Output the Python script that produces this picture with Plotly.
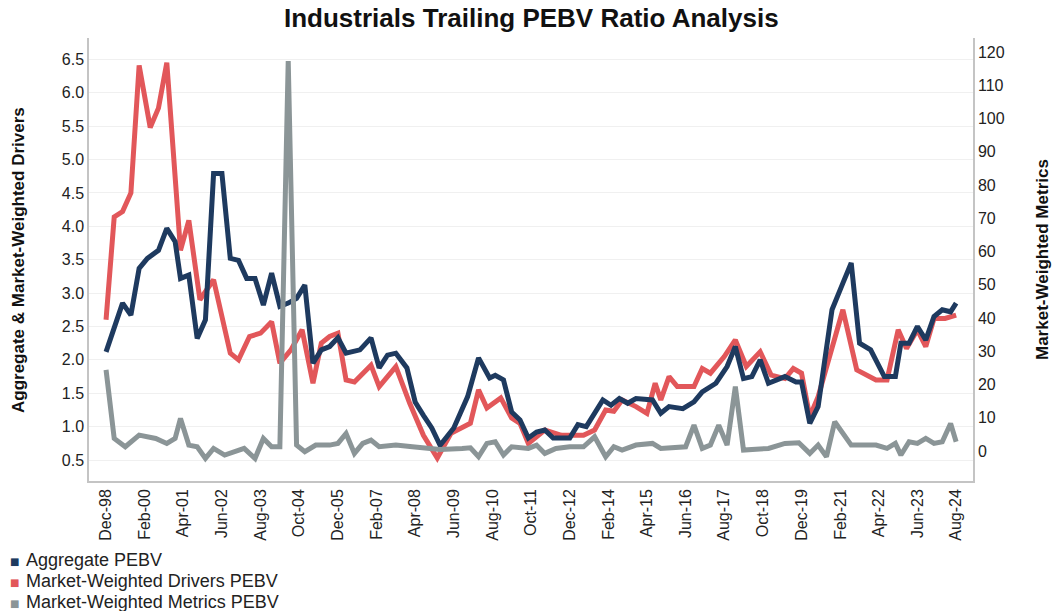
import pandas as pd
import plotly.graph_objects as go

# months since Dec-98 and values
agg_months = [0, 6, 9, 12, 15, 19, 22, 25, 27, 30, 33, 36, 39, 42, 45, 48, 51, 54, 57, 60, 63, 66, 69, 72,
              75, 78, 81, 84, 87, 92, 96, 99, 102, 105, 109, 112, 115, 118, 121, 126, 131, 135, 139, 141,
              144, 147, 150, 153, 156, 159, 162, 168, 171, 174, 180, 183, 186, 189, 192, 198, 201, 204,
              209, 213, 216, 221, 225, 228, 231, 234, 237, 240, 246, 250, 252, 255, 258, 263, 267, 270,
              273, 277, 282, 286, 288, 291, 294, 297, 300, 303, 306, 308]
agg_values = [2.12, 2.85, 2.67, 3.37, 3.52, 3.64, 3.97, 3.77, 3.22, 3.27, 2.32, 2.60, 4.79, 4.79, 3.52,
              3.49, 3.22, 3.22, 2.82, 3.30, 2.80, 2.85, 2.92, 3.12, 1.95, 2.15, 2.20, 2.33, 2.10, 2.15,
              2.33, 1.88, 2.07, 2.10, 1.88, 1.37, 1.17, 0.98, 0.72, 0.98, 1.45, 2.03, 1.73, 1.77, 1.70,
              1.22, 1.10, 0.83, 0.92, 0.95, 0.83, 0.83, 1.03, 1.00, 1.40, 1.32, 1.42, 1.35, 1.42, 1.40,
              1.20, 1.30, 1.27, 1.37, 1.52, 1.65, 1.90, 2.20, 1.72, 1.75, 2.00, 1.65, 1.75, 1.67, 1.67,
              1.05, 1.30, 2.75, 3.15, 3.45, 2.25, 2.15, 1.75, 1.75, 2.25, 2.25, 2.50, 2.30, 2.65, 2.75,
              2.72, 2.85]

drv_months = [0, 3, 6, 9, 12, 16, 19, 22, 27, 30, 34, 39, 45, 48, 52, 56, 60, 63, 67, 71, 75, 78, 81,
              84, 87, 90, 96, 99, 105, 110, 115, 120, 125, 130, 132, 135, 138, 143, 147, 150, 153, 159,
              165, 168, 173, 177, 181, 184, 187, 192, 196, 199, 201, 204, 207, 213, 216, 219, 224, 228,
              232, 237, 241, 246, 249, 252, 255, 258, 267, 272, 279, 283, 287, 290, 294, 297, 300, 304,
              308]
drv_values = [2.60, 4.14, 4.22, 4.50, 6.41, 5.48, 5.77, 6.45, 3.64, 4.09, 2.90, 3.20, 2.10, 2.00, 2.35,
              2.40, 2.57, 1.95, 2.15, 2.45, 1.65, 2.25, 2.35, 2.40, 1.70, 1.67, 1.92, 1.60, 1.90, 1.35,
              0.87, 0.53, 0.90, 1.02, 1.05, 1.55, 1.28, 1.43, 1.13, 1.05, 0.75, 0.95, 0.87, 0.87, 0.87,
              0.95, 1.25, 1.23, 1.40, 1.30, 1.20, 1.65, 1.40, 1.75, 1.60, 1.60, 1.87, 1.80, 2.05, 2.30,
              1.90, 2.12, 1.77, 1.72, 1.87, 1.80, 1.15, 1.45, 2.75, 1.85, 1.70, 1.70, 2.45, 2.17, 2.45,
              2.20, 2.62, 2.62, 2.67]

met_months = [0, 3, 7, 12, 18, 22, 25, 27, 30, 33, 36, 39, 43, 46, 50, 54, 57, 60, 63, 66, 69, 72, 76,
              81, 84, 87, 90, 93, 96, 99, 105, 111, 117, 121, 129, 132, 135, 138, 141, 144, 147, 153,
              156, 159, 163, 168, 173, 177, 181, 184, 187, 192, 198, 201, 210, 213, 216, 219, 222, 225,
              228, 231, 240, 246, 251, 255, 258, 261, 264, 270, 279, 283, 286, 288, 291, 294, 297, 300,
              303, 306, 308]
met_values = [24.4, 3.8, 1.3, 4.8, 3.8, 2.3, 3.8, 9.8, 1.8, 1.3, -2.2, 0.8, -1.2, -0.2, 0.8, -2.2, 3.8,
              1.3, 1.3, 117.3, 1.8, -0.2, 1.8, 1.8, 2.3, 5.3, -0.7, 2.3, 3.3, 1.3, 1.8, 1.3, 1.0, 0.5,
              0.8, 1.0, -1.7, 2.3, 2.8, -1.2, 1.3, 0.8, 1.8, -0.7, 0.8, 1.3, 1.3, 4.3, -1.7, 1.3, 0.3,
              1.8, 2.3, 0.8, 1.3, 7.8, 0.8, 1.8, 7.8, 1.8, 19.4, 0.3, 0.8, 2.3, 2.5, -0.7, 1.8, -1.7,
              8.8, 1.8, 1.8, 0.8, 2.3, -1.2, 2.8, 2.3, 3.8, 2.3, 2.8, 8.3, 2.8]

series_names = ["Aggregate PEBV", "Market-Weighted Drivers PEBV", "Market-Weighted Metrics PEBV"]
left_ticks = [0.5, 1.0, 1.5, 2.0, 2.5, 3.0, 3.5, 4.0, 4.5, 5.0, 5.5, 6.0, 6.5]
right_ticks = list(range(0, 121, 10))

BLUE = "#1e3a5f"
RED = "#e2575a"
GRAY = "#8b9597"

# body margin is removed by post_script, so the figure fills the window
W, H = 1055, 611
L, R, T, B = 89, 82, 38, 130
PW, PH = W - L - R, H - T - B


def px_x(px):
    return (px - L) / PW


def px_y(py):
    return (H - B - py) / PH


start = pd.Timestamp("1998-12-01")


def to_dates(months):
    return [start + pd.DateOffset(months=m) for m in months]


fig = go.Figure()
fig.add_trace(go.Scatter(x=to_dates(drv_months), y=drv_values, mode="lines",
                         line=dict(color=RED, width=5), name=series_names[1]))
fig.add_trace(go.Scatter(x=to_dates(agg_months), y=agg_values, mode="lines",
                         line=dict(color=BLUE, width=5), name=series_names[0]))
fig.add_trace(go.Scatter(x=to_dates(met_months), y=met_values, mode="lines", yaxis="y2",
                         line=dict(color=GRAY, width=5), name=series_names[2]))

FONT = "Liberation Sans, Arial, sans-serif"
annotations = []
# legend (square + label)
for i, (name, col) in enumerate(zip(series_names, [BLUE, RED, GRAY])):
    yc = 560 + i * 21
    annotations.append(dict(xref="paper", yref="paper", x=px_x(14), y=px_y(yc + 1), text="■",
                            showarrow=False, xanchor="center", yanchor="middle",
                            font=dict(family="DejaVu Sans", size=10, color=col)))
    annotations.append(dict(xref="paper", yref="paper", x=px_x(24), y=px_y(yc), text=name,
                            showarrow=False, xanchor="left", yanchor="middle",
                            font=dict(family=FONT, size=18, color="#222222")))
# axis titles
annotations.append(dict(xref="paper", yref="paper", x=px_x(18), y=px_y(260),
                        text="<b>Aggregate &amp; Market-Weighted Drivers</b>", textangle=-90,
                        showarrow=False, xanchor="center", yanchor="middle",
                        font=dict(family=FONT, size=17, color="#111111")))
annotations.append(dict(xref="paper", yref="paper", x=px_x(1042), y=px_y(260),
                        text="<b>Market-Weighted Metrics</b>", textangle=-90,
                        showarrow=False, xanchor="center", yanchor="middle",
                        font=dict(family=FONT, size=17, color="#111111")))
# title
annotations.append(dict(xref="paper", yref="paper", x=px_x(531), y=px_y(18),
                        text="<b>Industrials Trailing PEBV Ratio Analysis</b>",
                        showarrow=False, xanchor="center", yanchor="middle",
                        font=dict(family=FONT, size=26, color="#111111")))

fig.update_layout(
    width=W, height=H,
    paper_bgcolor="white", plot_bgcolor="white",
    margin=dict(l=L, r=R, t=T, b=B),
    font=dict(family=FONT, color="#222222", size=16),
    showlegend=False,
    annotations=annotations,
    xaxis=dict(type="date", range=["1998-05-27", "2025-02-03"], tick0="1998-12-01", dtick="M14",
               tickformat="%b-%y", tickangle=-90, showgrid=False, showline=True, linecolor="#c4c4c4",
               linewidth=1.5, ticks="", tickfont=dict(size=16), zeroline=False, automargin=False),
    yaxis=dict(range=[0.186, 6.82], tickvals=left_ticks, tickformat=".1f", showgrid=True,
               gridcolor="#f0f0f0", gridwidth=1, showline=True, linecolor="#c4c4c4", linewidth=1.5,
               zeroline=False, tickfont=dict(size=16), ticks="", automargin=False),
    yaxis2=dict(overlaying="y", side="right", range=[-9.0, 124.2], tickvals=right_ticks,
                showgrid=False, showline=True, linecolor="#c4c4c4", linewidth=1.5, zeroline=False,
                tickfont=dict(size=16), ticks="", automargin=False),
)

fig.write_html("out.html", config={"displayModeBar": False},
               post_script="document.body.style.margin='0';document.body.style.overflow='hidden';")
